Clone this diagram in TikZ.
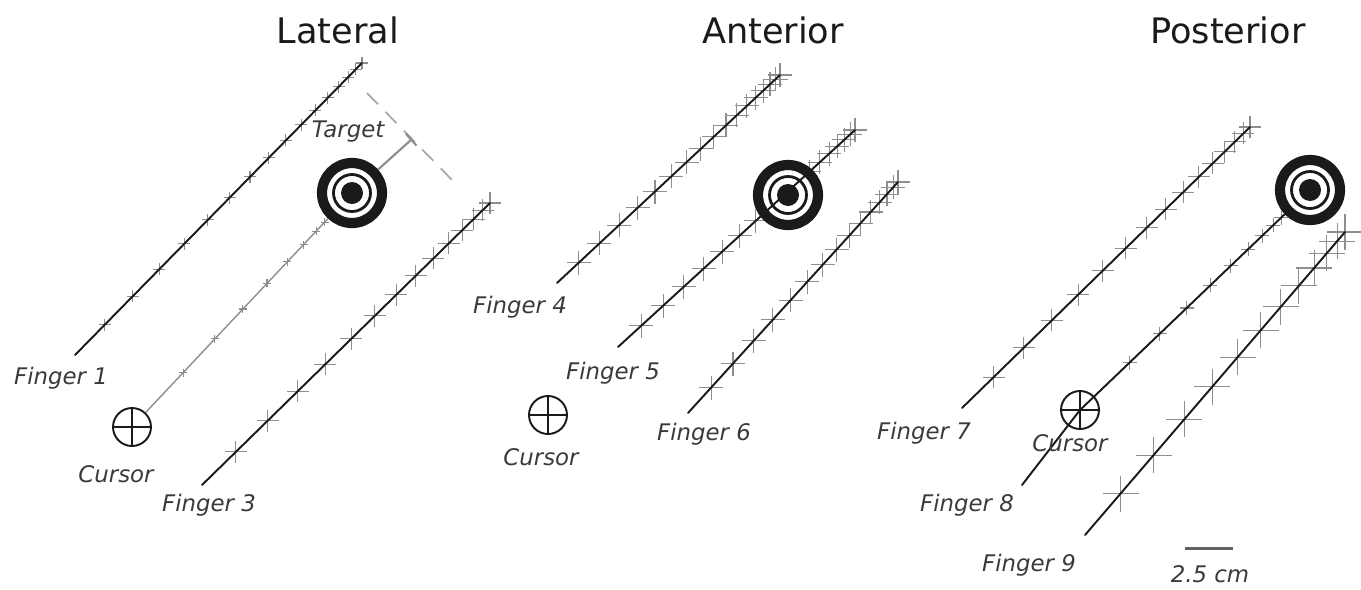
\documentclass[tikz,border=0pt]{standalone}
\usepackage{fontspec}
\setmainfont{DejaVu Sans}
\usetikzlibrary{calc,arrows.meta}
\definecolor{ink}{HTML}{1A1A1A}
\definecolor{labelgray}{HTML}{3A3A3A}
\definecolor{tickgray}{HTML}{8E8E8E}
\definecolor{dashgray}{HTML}{A8A8A8}

% crosses along a trace: start, end, count, half size
\newcommand{\fingerticks}[4]{%
  \foreach \k in {1,...,#3}{%
    \pgfmathsetmacro{\tpos}{1.7*\k/#3-0.7*(\k/#3)^2}
    \draw[tickmk] ($(#1)!\tpos!(#2)$) +(-#4,0) -- +(#4,0) +(0,-#4) -- +(0,#4);
  }}

\tikzset{
  panel/.style={font=\fontsize{20}{24}\selectfont, text=ink},
  lbl/.style={font=\itshape\fontsize{13}{16}\selectfont, text=labelgray},
  trace/.style={ink, line width=1.1pt, line cap=round},
  tickmk/.style={tickgray, line width=0.6pt},
  target/.style={circle, draw=ink, fill=white, line width=5.8pt, inner sep=0pt, minimum size=1.2cm,
    path picture={
      \draw[ink, line width=1.6pt] (path picture bounding box.center) circle (0.37cm);
      \fill[ink] (path picture bounding box.center) circle (0.22cm);}},
  cursor/.style={circle, draw=ink, fill=white, line width=1.1pt, inner sep=0pt, minimum size=0.76cm,
    path picture={
      \draw[ink, line width=1.1pt] (path picture bounding box.north) -- (path picture bounding box.south)
        (path picture bounding box.west) -- (path picture bounding box.east);}},
}

\begin{document}
\begin{tikzpicture}[x=0.02cm, y=-0.02cm]
  \useasboundingbox (0,0) rectangle (1361,589);

  % panel titles
  \node[panel] (lat) at (338,30) {Lateral};
  \node[panel] (ant) at (773,30) {Anterior};
  \node[panel] (pos) at (1228,30) {Posterior};

  % start and end of each finger trace
  \coordinate (f1s) at (75,355);   \coordinate (f1e) at (362,63);
  \coordinate (f3s) at (202,485);  \coordinate (f3e) at (490,203);
  \coordinate (f4s) at (557,283);  \coordinate (f4e) at (780,75);
  \coordinate (f5s) at (618,347);  \coordinate (f5e) at (855,130);
  \coordinate (f6s) at (688,413);  \coordinate (f6e) at (898,182);
  \coordinate (f7s) at (962,408);  \coordinate (f7e) at (1250,127);
  \coordinate (f8s) at (1022,485);
  \coordinate (f9s) at (1085,535); \coordinate (f9e) at (1345,232);

  % sample crosses
  \fingerticks{f1s}{f1e}{16}{6}
  \fingerticks{f3s}{f3e}{14}{11}
  \fingerticks{f4s}{f4e}{17}{12}
  \fingerticks{f5s}{f5e}{17}{12}
  \fingerticks{f6s}{f6e}{15}{12}
  \fingerticks{f7s}{f7e}{15}{11}
  \fingerticks{f9s}{f9e}{12}{18}

  % traces
  \draw[trace] (f1s) -- (f1e);
  \draw[trace] (f3s) -- (f3e);
  \draw[trace] (f4s) -- (f4e);
  \draw[trace] (f6s) -- (f6e);
  \draw[trace] (f7s) -- (f7e);
  \draw[trace] (f9s) -- (f9e);

  % targets and cursors
  \node[target] (tL) at (352,193) {};
  \node[target] (tA) at (788,195) {};
  \node[target] (tP) at (1310,190) {};
  \node[cursor] (cL) at (132,427) {};
  \node[cursor] (cA) at (548,415) {};
  \node[cursor] (cP) at (1080,410) {};

  % cursor paths
  \coordinate (mL1) at ($(cL)!0.45cm!(tL)$);
  \coordinate (mL2) at ($(tL)!0.8cm!(cL)$);
  \fingerticks{mL1}{mL2}{8}{4}
  \draw[tickgray, line width=0.8pt] (cL) -- (tL);
  \coordinate (mP1) at ($(cP)!0.45cm!(tP)$);
  \coordinate (mP2) at ($(tP)!0.8cm!(cP)$);
  \fingerticks{mP1}{mP2}{9}{7}
  \draw[trace] (f8s) -- (cP.center) -- (tP);
  \draw[trace] (f5s) -- (f5e);

  % distance from target to the end line
  \coordinate (dA) at (367,93);
  \coordinate (dB) at (457,185);
  \coordinate (dm) at ($(dA)!0.5!(dB)$);
  \draw[dashgray, line width=1pt, dash pattern=on 9pt off 6pt] (dA) -- (dB);
  \draw[tickgray, line width=1.2pt, -{Bar[width=9pt]}] (tL) -- (dm);

  % labels
  \node[lbl] (lt) at (348,132) {Target};
  \node[lbl] (l1) at (61,378) {Finger 1};
  \node[lbl] (lcL) at (116,474) {Cursor};
  \node[lbl] (l3) at (209,505) {Finger 3};
  \node[lbl] (l4) at (520,307) {Finger 4};
  \node[lbl] (l5) at (613,373) {Finger 5};
  \node[lbl] (lcA) at (541,457) {Cursor};
  \node[lbl] (l6) at (704,434) {Finger 6};
  \node[lbl] (l7) at (924,433) {Finger 7};
  \node[lbl] (lcP) at (1070,443) {Cursor};
  \node[lbl] (l8) at (967,505) {Finger 8};
  \node[lbl] (l9) at (1029,565) {Finger 9};

  % scale bar
  \coordinate (sb1) at (1185,548);
  \coordinate (sb2) at (1233,548);
  \draw[labelgray!80, line width=1.7pt] (sb1) -- (sb2);
  \node[lbl] (sbl) at (1210,574) {2.5 cm};
\end{tikzpicture}
\end{document}
